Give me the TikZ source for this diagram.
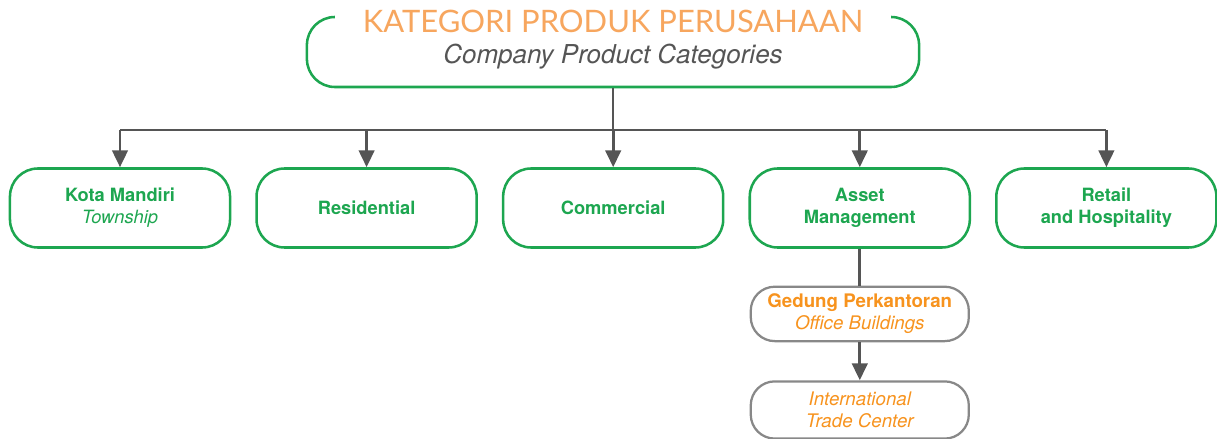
\documentclass[tikz,border=0pt]{standalone}
\usepackage{fontspec}
\setmainfont{TeX Gyre Heros}
\newfontfamily\titlefont{Lato}
\usepackage{xcolor}
\usetikzlibrary{arrows.meta, positioning}

\definecolor{catgreen}{RGB}{29,166,80}
\definecolor{lineg}{RGB}{85,85,85}
\definecolor{boxg}{RGB}{136,136,136}
\definecolor{titleor}{RGB}{247,166,94}
\definecolor{subor}{RGB}{247,147,30}

\begin{document}
\begin{tikzpicture}[x=0.025cm,y=-0.025cm,node distance=0.6cm,
    >={Triangle[width=11pt,length=12pt]},
    conn/.style={draw=lineg,line width=2pt},
    cat/.style={draw=catgreen,line width=1.8pt,rounded corners=0.7cm,
      minimum width=5.5cm,minimum height=1.975cm,align=center,
      text=catgreen,font=\fontsize{13}{15.5}\selectfont\bfseries},
    sub/.style={draw=boxg,line width=1.6pt,rounded corners=0.6cm,
      minimum width=5.45cm,align=center,text=subor,
      font=\fontsize{13.3}{15.5}\selectfont}]
    \useasboundingbox (0,0) rectangle (1217,439);

    % heading box
    \node[draw=catgreen,line width=1.8pt,rounded corners=0.7cm,
      minimum width=15.3cm,minimum height=1.75cm] (head) at (613,52) {};
    \node[fill=white,inner xsep=0.7cm,inner ysep=0pt,text=titleor,
      font=\titlefont\fontsize{22}{24}\selectfont] (title) at (613,21)
      {KATEGORI PRODUK PERUSAHAAN};
    \node[text=lineg,font=\fontsize{18.5}{20}\selectfont\itshape] (subtitle)
      at (613,57) {Company Product Categories};

    % categories
    \node[cat] (km) at (120,208) {Kota Mandiri\\{\mdseries\itshape Township}};
    \node[cat] (res) [right=of km] {Residential};
    \node[cat] (com) [right=of res] {Commercial};
    \node[cat] (am) [right=of com] {Asset\\Management};
    \node[cat] (rh) [right=of am] {Retail\\and Hospitality};

    % office buildings
    \node[sub,minimum height=1.36cm] (gp) [below=0.92cm of am]
      {{\bfseries Gedung Perkantoran}\\\itshape Office Buildings};
    \node[sub,minimum height=1.43cm] (itc) [below=0.95cm of gp]
      {\itshape International\\\itshape Trade Center};

    \coordinate (bus) at (613,130);
    \draw[conn] (head.south) -- (head.south |- bus);
    \draw[conn] (km.north |- bus) -- (rh.north |- bus);
    \foreach \n in {km,res,com,am,rh}
      \draw[conn,->] (\n.north |- bus) -- (\n.north);
    \draw[conn] (am.south) -- (gp.north);
    \draw[conn,->] (gp.south) -- (itc.north);
\end{tikzpicture}
\end{document}
